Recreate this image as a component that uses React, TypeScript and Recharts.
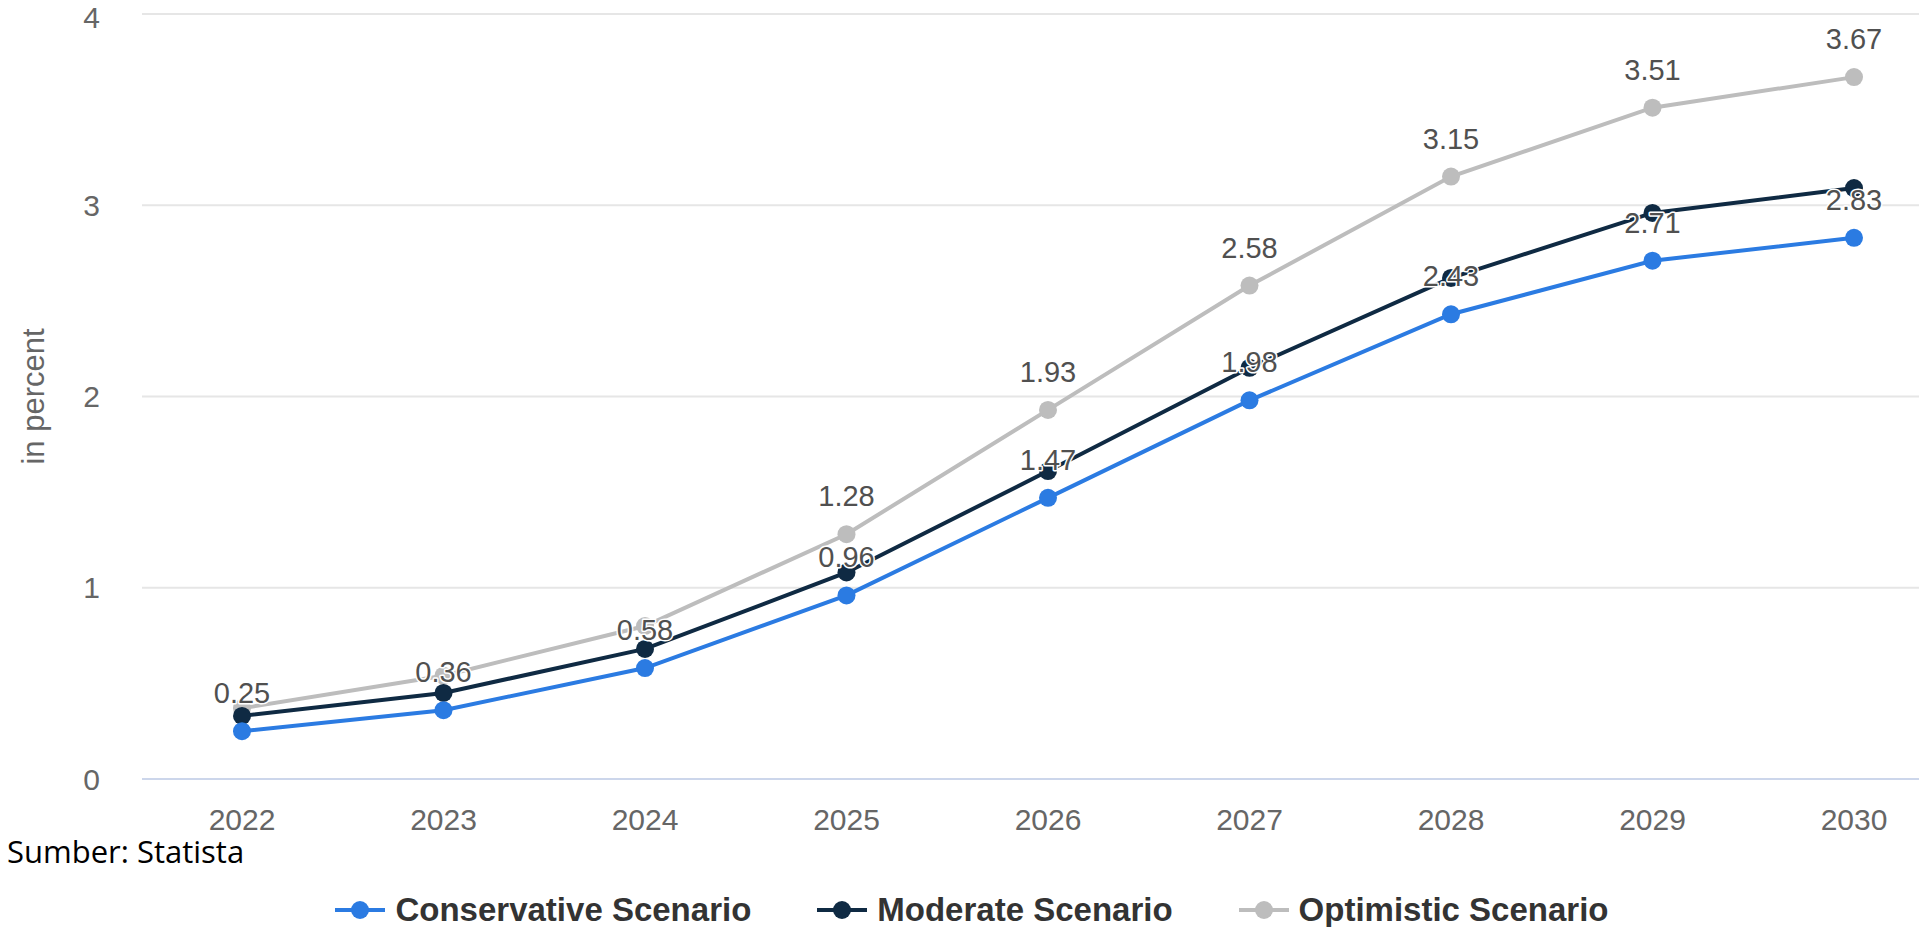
import { LineChart, Line, XAxis, YAxis, CartesianGrid, LabelList } from "recharts";

const years = ["2022", "2023", "2024", "2025", "2026", "2027", "2028", "2029", "2030"];
const conservative = [0.25, 0.36, 0.58, 0.96, 1.47, 1.98, 2.43, 2.71, 2.83];
const moderate = [0.33, 0.45, 0.68, 1.08, 1.61, 2.15, 2.62, 2.96, 3.09];
const optimistic = [0.37, 0.54, 0.8, 1.28, 1.93, 2.58, 3.15, 3.51, 3.67];
const yTicks = [0, 1, 2, 3, 4];

const series = [
    { key: "conservative", name: "Conservative Scenario", color: "#2b7be2" },
    { key: "moderate", name: "Moderate Scenario", color: "#0f2a43" },
    { key: "optimistic", name: "Optimistic Scenario", color: "#bdbdbd" },
];

// optimistic labels get dropped where they would collide with the conservative ones
const LABEL_GAP = 0.3;

const data = years.map((year, i) => ({
    year,
    conservative: conservative[i],
    moderate: moderate[i],
    optimistic: optimistic[i],
    optimisticLabel: optimistic[i] - conservative[i] >= LABEL_GAP ? optimistic[i] : undefined,
}));

const FONT = "'Liberation Sans', Arial, Helvetica, sans-serif";

function ValueLabel(props: any) {
    const { x, y, value } = props;
    if (value === undefined || value === null) return null;
    return (
        <text
            x={x}
            y={y - 28}
            textAnchor="middle"
            fontSize={29}
            fontFamily={FONT}
            fill="#505050"
            stroke="#fff"
            strokeWidth={3}
            strokeLinejoin="round"
            paintOrder="stroke"
        >
            {Number(value).toFixed(2)}
        </text>
    );
}

function AxisTitle(props: any) {
    const { viewBox } = props;
    const cx = 33;
    const cy = viewBox.y + viewBox.height / 2;
    return (
        <text
            x={cx}
            y={cy}
            transform={`rotate(-90, ${cx}, ${cy})`}
            textAnchor="middle"
            dominantBaseline="central"
            fontSize={31}
            fontFamily={FONT}
            fill="#666"
        >
            in percent
        </text>
    );
}

function LegendIcon({ color }: { color: string }) {
    return (
        <svg width={50} height={24} style={{ display: "block" }}>
            <line x1={0} y1={12} x2={50} y2={12} stroke={color} strokeWidth={4} />
            <circle cx={25} cy={12} r={9} fill={color} />
        </svg>
    );
}

export default function App() {
    return (
        <div
            style={{
                position: "absolute",
                left: 0,
                top: 0,
                width: 1919,
                height: 927,
                overflow: "hidden",
                background: "#fff",
            }}
        >
            <LineChart
                width={1960}
                height={927}
                data={data}
                margin={{ top: 14, right: 6, left: 0, bottom: 0 }}
            >
                <CartesianGrid vertical={false} stroke="#e6e6e6" strokeWidth={2} />
                <XAxis
                    dataKey="year"
                    height={148}
                    padding={{ left: 100, right: 100 }}
                    axisLine={{ stroke: "#ccd6eb", strokeWidth: 2 }}
                    tickLine={false}
                    tickMargin={24}
                    tick={{ fill: "#666", fontSize: 30, fontFamily: FONT }}
                />
                <YAxis
                    width={142}
                    domain={[0, 4]}
                    ticks={yTicks}
                    axisLine={false}
                    tickLine={false}
                    tickMargin={36}
                    tick={{ fill: "#666", fontSize: 30, fontFamily: FONT }}
                    label={{ content: AxisTitle }}
                />
                <Line
                    dataKey="optimistic"
                    type="linear"
                    stroke={series[2].color}
                    strokeWidth={4}
                    dot={{ r: 9, fill: series[2].color, stroke: series[2].color, strokeWidth: 0 }}
                    activeDot={false}
                    isAnimationActive={false}
                >
                    <LabelList dataKey="optimisticLabel" content={ValueLabel} />
                </Line>
                <Line
                    dataKey="moderate"
                    type="linear"
                    stroke={series[1].color}
                    strokeWidth={4}
                    dot={{ r: 9, fill: series[1].color, stroke: series[1].color, strokeWidth: 0 }}
                    activeDot={false}
                    isAnimationActive={false}
                />
                <Line
                    dataKey="conservative"
                    type="linear"
                    stroke={series[0].color}
                    strokeWidth={4}
                    dot={{ r: 9, fill: series[0].color, stroke: series[0].color, strokeWidth: 0 }}
                    activeDot={false}
                    isAnimationActive={false}
                >
                    <LabelList dataKey="conservative" content={ValueLabel} />
                </Line>
            </LineChart>

            <div
                style={{
                    position: "absolute",
                    left: 7,
                    top: 836,
                    fontFamily: "'Open Sans', Lato, sans-serif",
                    fontSize: 31,
                    lineHeight: 1,
                    color: "#000",
                }}
            >
                Sumber: Statista
            </div>

            <div
                style={{
                    position: "absolute",
                    left: 0,
                    top: 893,
                    width: 1944,
                    display: "flex",
                    justifyContent: "center",
                    gap: 66,
                    fontFamily: FONT,
                    fontWeight: "bold",
                    fontSize: 33,
                    lineHeight: 1,
                    color: "#333",
                }}
            >
                {series.map((s) => (
                    <div key={s.key} style={{ display: "flex", alignItems: "center", gap: 10 }}>
                        <LegendIcon color={s.color} />
                        <span>{s.name}</span>
                    </div>
                ))}
            </div>
        </div>
    );
}
